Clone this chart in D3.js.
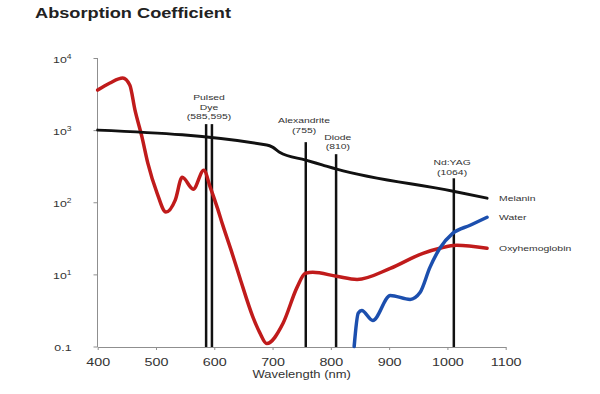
<!DOCTYPE html>
<html>
<head>
<meta charset="utf-8">
<title>Absorption Coefficient</title>
<style>
  body { margin: 0; background: #fff; font-family: "Liberation Sans", Arial, sans-serif; }
  svg { display: block; background: #fff; }
  .axis path, .axis line { stroke: #8f8f8f; stroke-width: 1; }
  .axis text { fill: #333; }
  .series { fill: none; stroke-linecap: round; stroke-linejoin: round; }
  .laser { stroke: #111; stroke-width: 2.5; }
  .lbl { fill: #333; font-size: 8px; }
</style>
</head>
<body>
<svg id="chart" width="600" height="394"></svg>
<script src="https://d3js.org/d3.v7.min.js"></script>
<script>
// values: wavelength (nm) -> absorption
const melaninNm  = [400, 690, 700, 712, 757, 785, 810, 1010, 1068];
const melaninVal = [1000, 620, 580, 494, 384, 330, 288, 142, 114];

const oxyNm  = [400, 421, 443, 455, 464, 476, 486, 502, 517, 533, 545, 564, 582, 593, 605, 615, 629, 644, 666, 678, 690, 718, 742, 756, 769, 810, 845, 902, 958, 987, 1016, 1068];
const oxyVal = [3594, 4497, 5275, 4217, 1896, 800, 348, 133, 73, 107, 222, 152, 278, 162, 85, 47, 21.5, 8.9, 2.6, 1.56, 1.1, 2.1, 6.6, 10.3, 10.7, 9.4, 8.5, 12.1, 19.6, 23, 25.3, 23];

const waterNm  = [840, 847, 853, 872, 902, 936, 953, 970, 987, 1009, 1039, 1068];
const waterVal = [1, 2.9, 3.16, 2.3, 5.1, 4.5, 5.6, 12.5, 23, 37, 48, 62];

const seriesNames = ["Melanin", "Water", "Oxyhemoglobin"];
const seriesColors = ["#111111", "#1c4fae", "#c01b1b"];

// laser lines (position as drawn) and where they stop at the top
const laserNm  = [586, 596, 757, 809, 1011];
const laserTop = [1211, 1211, 681, 464, 215];
const laserLabels = [["Pulsed", "Dye", "(585,595)"], ["Alexandrite", "(755)"], ["Diode", "(810)"], ["Nd:YAG", "(1064)"]];
const laserLabelNm  = [591, 754, 812, 1008];
const laserLabelTop = [1211, 780, 464, 205];

const xTicks = [400, 500, 600, 700, 800, 900, 1000, 1100];
const yTicks = [1, 10, 100, 1000, 10000];
const yTickBase = ["0.1", "10", "10", "10", "10"];
const yTickExp  = ["", "1", "2", "3", "4"];

const sx = 1.3; // the original text is stretched sideways
const svg = d3.select("#chart");

const x = d3.scaleLinear().domain([400, 1100]).range([97.7, 505.7]);
const y = d3.scaleLog().domain([1, 10000]).range([346.5, 58]);

// title
svg.append("text")
    .attr("transform", `translate(35,18) scale(${sx},1)`)
    .attr("font-size", 14).attr("font-weight", "bold").attr("fill", "#222")
    .text("Absorption Coefficient");

// x axis
const gx = svg.append("g").attr("class", "axis")
    .attr("transform", "translate(0,347)")
    .call(d3.axisBottom(x).tickValues(xTicks).tickSize(3).tickSizeOuter(0).tickFormat(d3.format("d")));
gx.selectAll("text")
    .attr("y", null).attr("dy", null)
    .attr("font-size", 11)
    .attr("transform", `translate(0,19) scale(${sx},1)`);

svg.append("text")
    .attr("transform", `translate(${x(750)},378) scale(${sx},1)`)
    .attr("text-anchor", "middle").attr("font-size", 10).attr("fill", "#333")
    .text("Wavelength (nm)");

// y axis
const gy = svg.append("g").attr("class", "axis")
    .attr("transform", "translate(97.5,0)")
    .call(d3.axisLeft(y).tickValues(yTicks).tickSize(4).tickSizeOuter(0).tickFormat(""));
gy.select(".domain").attr("d", `M0,${y(1) + 0.5}V${y(10000)}`);
gy.selectAll(".tick").each(function(d, i) {
    const t = d3.select(this).append("text")
        .attr("text-anchor", "end")
        .attr("font-size", 9.5)
        .attr("fill", "#333")
        .attr("transform", `translate(-26,4) scale(${sx},1)`);
    t.append("tspan").text(yTickBase[i]);
    if (yTickExp[i]) t.append("tspan").attr("dy", -4).attr("font-size", 6.5).text(yTickExp[i]);
});

// laser lines
svg.append("g").selectAll("line")
    .data(laserNm)
    .join("line")
    .attr("class", "laser")
    .attr("x1", d => x(d)).attr("x2", d => x(d))
    .attr("y1", (d, i) => y(laserTop[i]))
    .attr("y2", y(1) + 0.5);

const lg = svg.append("g").selectAll("text")
    .data(laserLabels)
    .join("text")
    .attr("class", "lbl")
    .attr("text-anchor", "middle")
    .attr("transform", (d, i) => `translate(${x(laserLabelNm[i])},${y(laserLabelTop[i]) - 5 - (d.length - 1) * 9.5}) scale(${sx},1)`);
lg.selectAll("tspan")
    .data(d => d)
    .join("tspan")
    .attr("x", 0)
    .attr("dy", (d, i) => i ? 9.5 : 0)
    .text(d => d);

// curves
const line = d3.line()
    .x(d => x(d[0]))
    .y(d => y(d[1]))
    .curve(d3.curveMonotoneX);

const series = [
    d3.zip(melaninNm, melaninVal),
    d3.zip(waterNm, waterVal),
    d3.zip(oxyNm, oxyVal)
];
const widths = [3, 3.5, 3.5];

// draw oxyhemoglobin first, then water, then melanin on top
[2, 1, 0].forEach(i => {
    svg.append("path")
        .attr("class", "series")
        .attr("d", line(series[i]))
        .attr("stroke", seriesColors[i])
        .attr("stroke-width", widths[i]);
});

// series labels
svg.append("g").selectAll("text")
    .data(seriesNames)
    .join("text")
    .attr("class", "lbl")
    .attr("transform", (d, i) => {
        const last = series[i][series[i].length - 1];
        return `translate(${x(last[0]) + 12},${y(last[1]) + 3}) scale(${sx},1)`;
    })
    .text(d => d);
</script>
</body>
</html>
